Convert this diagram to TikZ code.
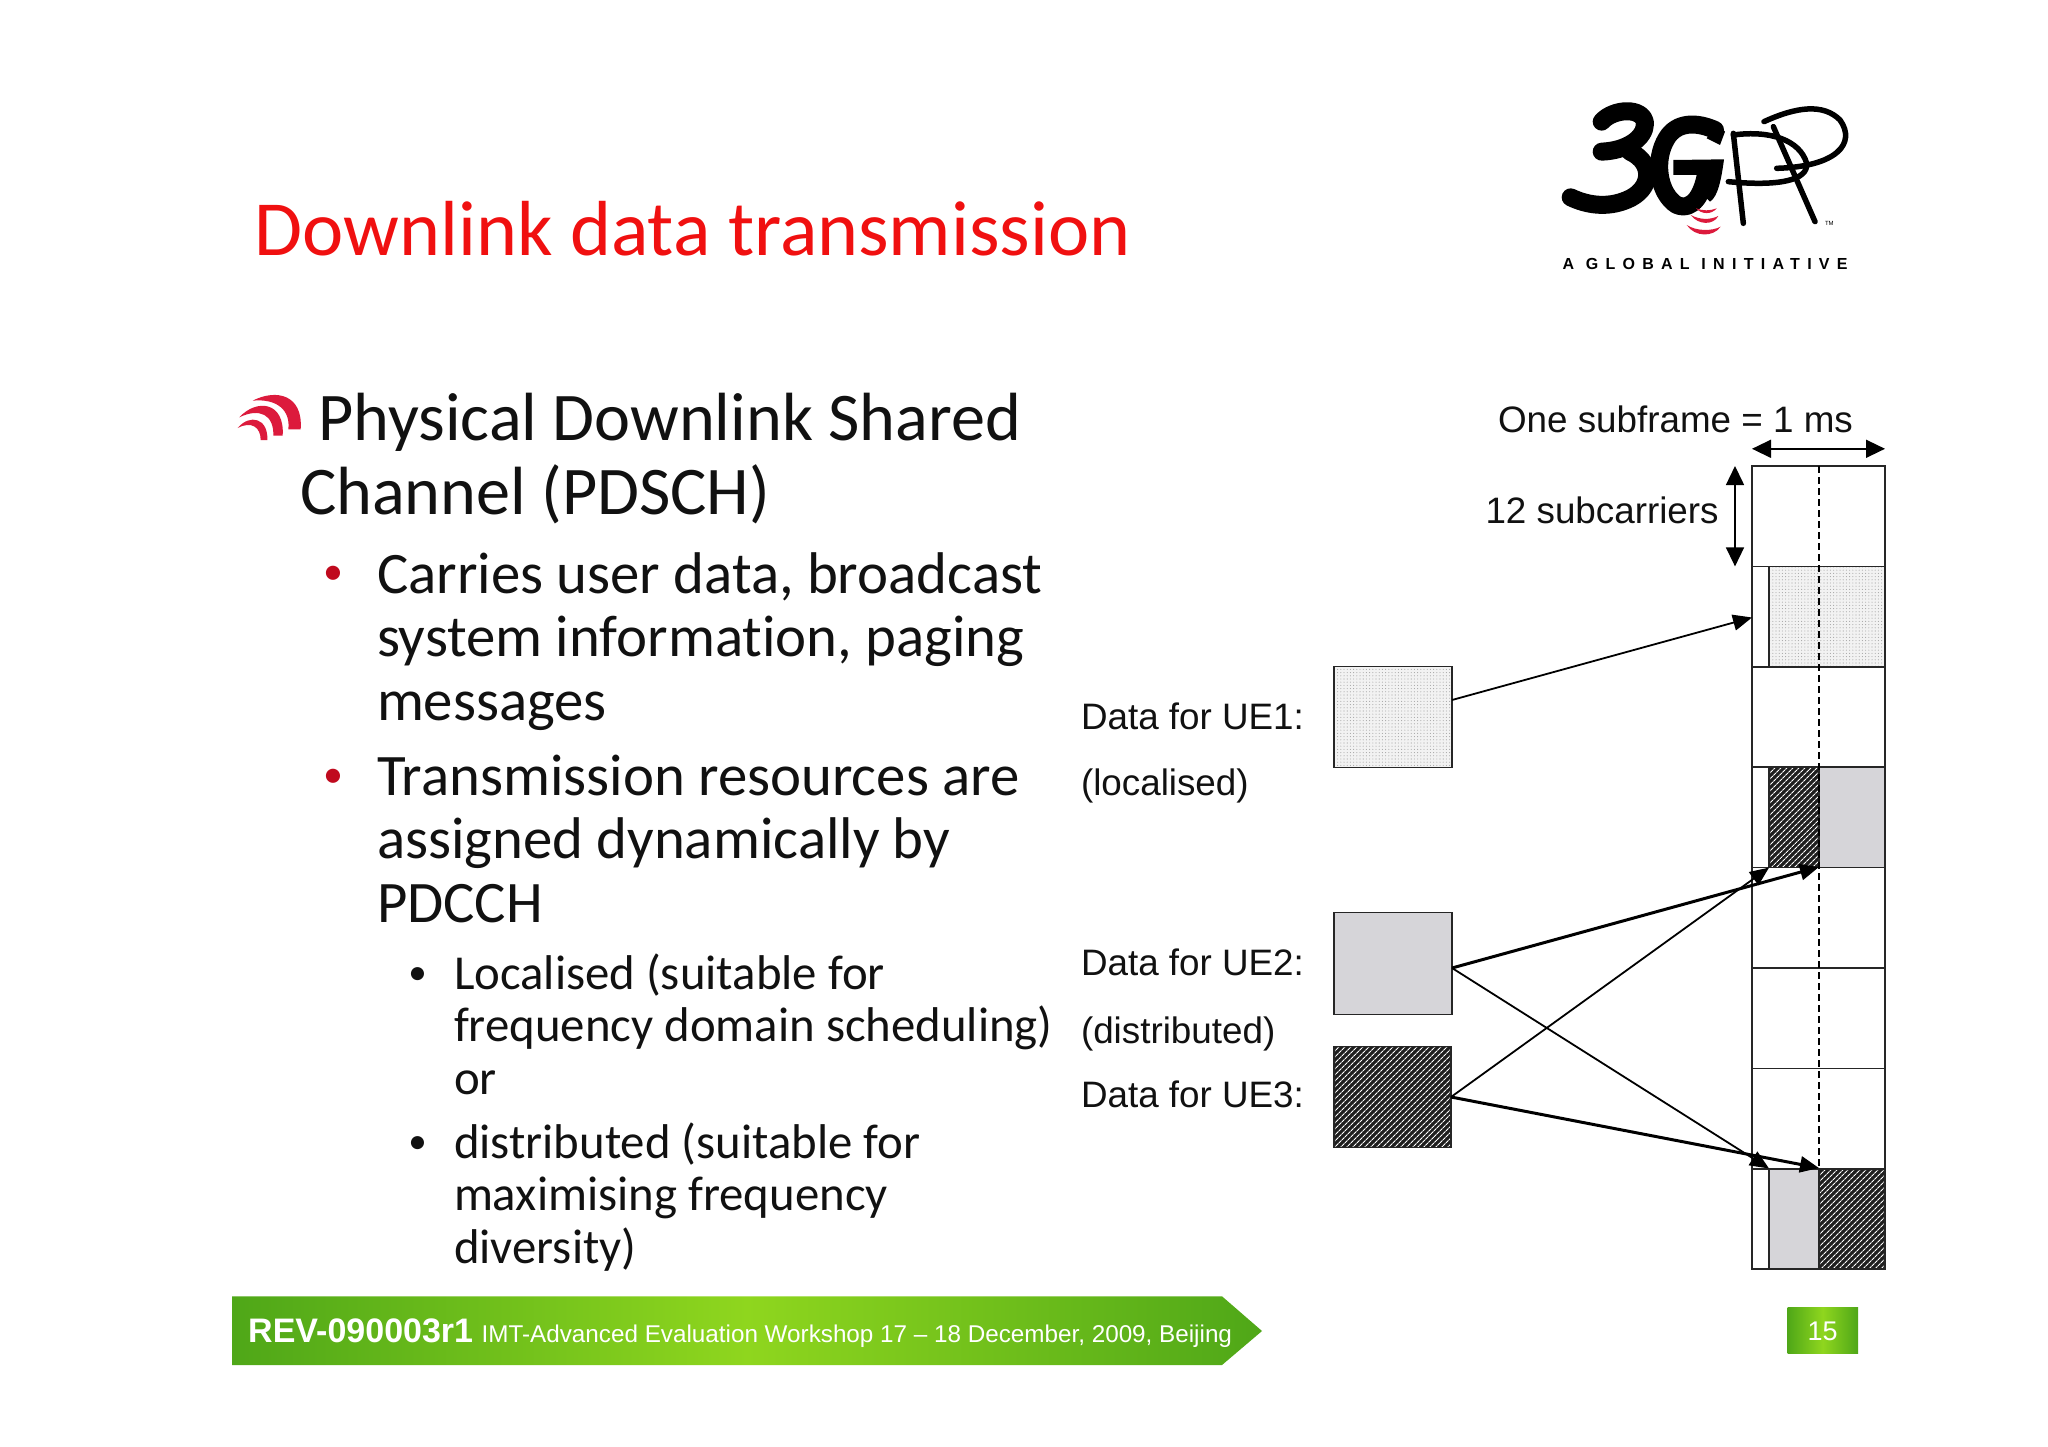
\documentclass[tikz,border=0pt]{standalone}
\usepackage{fontspec}
\setmainfont[Ligatures=NoCommon]{Carlito}
\newfontfamily\arialf{Liberation Sans}
\newfontfamily\logof[LetterSpace=45.5]{Liberation Sans}
\usetikzlibrary{arrows.meta,patterns.meta}
\definecolor{titlered}{HTML}{F01010}
\definecolor{bulletred}{HTML}{C00A1E}
\definecolor{iconred}{HTML}{DC1A3C}
\definecolor{bodyblack}{HTML}{111111}
\definecolor{cellgray}{HTML}{D6D5D9}
\definecolor{greenedge}{HTML}{4FA718}
\definecolor{greenmid}{HTML}{8FD61E}
\tikzset{
  x=1pt,y=-1pt,
  txt/.style={anchor=base west,inner sep=0pt,outer sep=0pt,text=bodyblack},
  titletxt/.style={txt,text=titlered,font=\fontsize{78.1}{86}\selectfont},
  lone/.style={txt,font=\fontsize{68.2}{76}\selectfont},
  ltwo/.style={txt,font=\fontsize{58.8}{66}\selectfont},
  lthree/.style={txt,font=\fontsize{48.8}{54}\selectfont},
  redbul/.style={anchor=base,inner sep=0pt,text=bulletred,font=\fontsize{40}{46}\selectfont},
  blackbul/.style={anchor=base,inner sep=0pt,text=bodyblack,font=\fontsize{37}{42}\selectfont},
  ariallab/.style={txt,font=\arialf\fontsize{36.8}{42}\selectfont},
  cellbox/.style={draw=black!85,line width=1.5pt,anchor=north west,inner sep=0pt,outer sep=0pt,minimum height=100.4pt},
  graycell/.style={cellbox,fill=cellgray},
  dotcell/.style={cellbox,preaction={fill=white!95!black},pattern={Dots[distance=3.2pt,radius=0.55pt]},pattern color=black!35},
  hatchcell/.style={cellbox,preaction={fill=black!88},pattern={Lines[angle=45,distance=4pt,line width=1.1pt]},pattern color=white},
  thinarrow/.style={draw=black,line width=1.8pt,-{Triangle[length=19pt,width=16pt]}},
  thickarrow/.style={draw=black,line width=3pt,-{Triangle[length=19pt,width=16pt]}},
  dimarrow/.style={draw=black,line width=1.5pt,{Triangle[length=19pt,width=18pt]}-{Triangle[length=19pt,width=18pt]}},
  logostroke/.style={draw=black,line cap=round,line join=round},
}
\begin{document}
\begin{tikzpicture}
\useasboundingbox (0,0) rectangle (2048,1447);
\fill[white] (0,0) rectangle (2048,1447);

% title
\node[titletxt] (title) at (254.5,256) {Downlink data transmission};

% icon
\begin{scope}[shift={(220,370)},scale=1/3]
\fill[iconred] (98,92) .. controls (170,55) and (250,75) .. (242,178) -- (205,178) .. controls (212,120) and (170,85) .. (98,92) -- cycle;
\fill[iconred] (58,142) .. controls (110,85) and (195,95) .. (188,197) -- (160,197) .. controls (162,135) and (120,112) .. (58,142) -- cycle;
\fill[iconred] (53,174) .. controls (90,130) and (145,145) .. (142,210) -- (122,210) .. controls (122,172) and (95,152) .. (53,174) -- cycle;
\end{scope}

% body
\node[lone] (a1) at (318.4,440) {Physical Downlink Shared};
\node[lone] (a2) at (300,514) {Channel (PDSCH)};
\node[redbul] (b1) at (333,584.6) {•};
\node[ltwo] (b1a) at (377,593.5) {Carries user data, broadcast};
\node[ltwo] (b1b) at (377,656.5) {system information, paging};
\node[ltwo] (b1c) at (377,720.5) {messages};
\node[redbul] (b2) at (333,787) {•};
\node[ltwo] (b2a) at (377,795.5) {Transmission resources are};
\node[ltwo] (b2b) at (377,858.5) {assigned dynamically by};
\node[ltwo] (b2c) at (377,922.5) {PDCCH};
\node[blackbul] (c1) at (417.6,984) {•};
\node[lthree] (c1a) at (454,989) {Localised (suitable for};
\node[lthree] (c1b) at (454,1041.5) {frequency domain scheduling)};
\node[lthree] (c1c) at (454,1094.5) {or};
\node[blackbul] (c2) at (417.6,1153.5) {•};
\node[lthree] (c2a) at (454,1158.5) {distributed (suitable for};
\node[lthree] (c2b) at (454,1210.5) {maximising frequency};
\node[lthree] (c2c) at (454,1263.5) {diversity)};

% labels
\node[ariallab] (l1) at (1081,729) {Data for UE1:};
\node[ariallab] (l1b) at (1081,795.4) {(localised)};
\node[ariallab] (l2) at (1081,975.5) {Data for UE2:};
\node[ariallab] (l2b) at (1081,1043) {(distributed)};
\node[ariallab] (l3) at (1081,1107.6) {Data for UE3:};
\node[ariallab] (dur) at (1498,432) {One subframe = 1 ms};
\node[ariallab] (sub) at (1485.5,523) {12 subcarriers};

% data boxes
\node[dotcell,minimum width=118pt,minimum height=101pt] (ue1) at (1334,666.7) {};
\node[graycell,minimum width=118pt,minimum height=101.6pt] (ue2) at (1334,912.7) {};
\node[hatchcell,minimum width=117pt,minimum height=101pt] (ue3) at (1334,1046.7) {};

% grid rows
\node[cellbox,minimum width=133pt] (r1) at (1752,466) {};
\node[cellbox,minimum width=133pt] (r2) at (1752,566.4) {};
\node[cellbox,minimum width=133pt] (r3) at (1752,666.8) {};
\node[cellbox,minimum width=133pt] (r4) at (1752,767.2) {};
\node[cellbox,minimum width=133pt] (r5) at (1752,867.6) {};
\node[cellbox,minimum width=133pt] (r6) at (1752,968) {};
\node[cellbox,minimum width=133pt] (r7) at (1752,1068.4) {};
\node[cellbox,minimum width=133pt] (r8) at (1752,1168.8) {};
% filled parts
\node[dotcell,minimum width=116pt] (d2) at (1769,566.4) {};
\node[hatchcell,minimum width=50pt] (h4) at (1769,767.2) {};
\node[graycell,minimum width=66pt] (g4) at (1819,767.2) {};
\node[graycell,minimum width=50pt] (g8) at (1769,1168.8) {};
\node[hatchcell,minimum width=66pt] (h8) at (1819,1168.8) {};
% dashed centre line
\draw[line width=1.2pt,dash pattern=on 7pt off 4pt] (r1.north west -| h4.east) -- (h8.north west);

% dimension arrows
\coordinate (dimL) at (1752,448.8);
\coordinate (dimR) at (1885,448.8);
\coordinate (dimT) at (1735,466);
\coordinate (dimB) at (1735,566.4);
\draw[dimarrow] (dimL) -- (dimR);
\draw[dimarrow] (dimT) -- (dimB);

% connectors
\coordinate (out1) at (1452,700);
\coordinate (out2) at (1452,968);
\coordinate (out3) at (1451,1097);
\coordinate (in1) at (1752,617.5);
\coordinate (in2a) at (1819,867);
\coordinate (in3a) at (1769,867.6);
\coordinate (in3b) at (1819,1168);
\coordinate (in2b) at (1769,1168.5);
\draw[thinarrow] (out1) -- (in1);
\draw[thickarrow] (out2) -- (in2a);
\draw[thinarrow] (out3) -- (in3a);
\draw[thickarrow] (out3) -- (in3b);
\draw[thinarrow] (out2) -- (in2b);

% logo
\begin{scope}[shift={(1530,80)},scale=1/3]
\draw[logostroke,line width=18pt] (215,125) .. controls (250,85) and (340,80) .. (345,130) .. controls (345,175) and (290,212) .. (215,215);
\draw[logostroke,line width=18pt] (300,215) .. controls (375,250) and (365,330) .. (290,360) .. controls (230,385) and (170,375) .. (122,352);
\draw[logostroke,line width=18pt] (555,150) .. controls (500,125) and (440,125) .. (410,175) .. controls (370,240) and (385,340) .. (440,375) .. controls (490,395) and (520,340) .. (530,270);
\fill[black] (430,240) -- (582,238) .. controls (575,290) and (565,350) .. (540,365) -- (520,345) -- (510,285) -- (430,285) -- cycle;
\fill[black] (560,130) -- (585,155) -- (570,195) -- (530,175) -- cycle;
\draw[logostroke,line width=5.5pt] (610,160) -- (640,430);
\draw[logostroke,line width=5.5pt] (610,165) .. controls (720,150) and (810,180) .. (830,250) .. controls (835,300) and (750,320) .. (595,305);
\draw[logostroke,line width=5.5pt] (702,125) .. controls (800,80) and (880,70) .. (930,120) .. controls (980,190) and (920,260) .. (740,265);
\draw[logostroke,line width=5.5pt] (730,140) -- (855,425);
\fill[iconred] (498,385) .. controls (515,404) and (545,404) .. (560,385) .. controls (540,393) and (518,393) .. (498,385) -- cycle;
\fill[iconred] (482,405) .. controls (505,436) and (550,436) .. (565,408) .. controls (540,420) and (510,420) .. (482,405) -- cycle;
\fill[iconred] (470,435) .. controls (495,472) and (550,472) .. (572,440) .. controls (545,454) and (500,454) .. (470,435) -- cycle;
\node[inner sep=0pt,anchor=base,text=black,font=\arialf\fontsize{6}{7}\selectfont] (tm) at (898,437) {TM};
\node[inner sep=0pt,anchor=base west,text=black,font=\logof\bfseries\fontsize{16}{18}\selectfont] (tag) at (97,568) {A GLOBAL INITIATIVE};
\end{scope}

% footer
\shade[left color=greenedge,right color=greenedge,middle color=greenmid] (232,1296.3) -- (1222,1296.3) -- (1262,1331) -- (1222,1365) -- (232,1365) -- cycle;
\node[inner sep=0pt,anchor=base west,text=white,font=\arialf\bfseries\fontsize{34}{38}\selectfont] (rev) at (248,1342.5) {REV-090003r1};
\node[inner sep=0pt,anchor=base west,text=white,font=\arialf\fontsize{24.25}{28}\selectfont] (ws) at (481.5,1342.5) {IMT-Advanced Evaluation Workshop 17 – 18 December, 2009, Beijing};
\shade[left color=greenedge,right color=greenedge,middle color=greenmid] (1787.5,1307.7) rectangle (1858,1353.7);
\node[inner sep=0pt,anchor=base,text=white,font=\arialf\fontsize{27}{30}\selectfont] (pg) at (1822.5,1340) {15};
\end{tikzpicture}
\end{document}
